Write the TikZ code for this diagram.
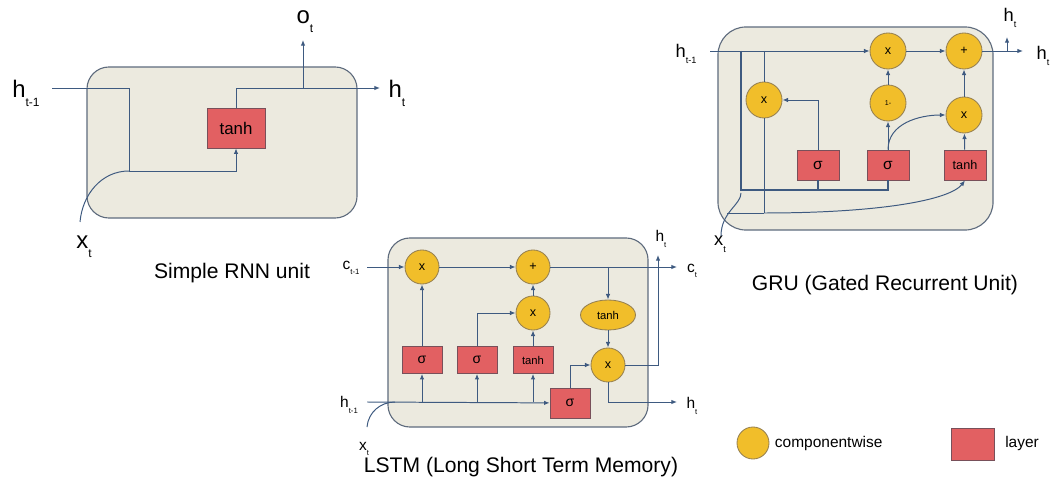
\documentclass[tikz,border=0pt]{standalone}
\usepackage{fontspec}
\setmainfont{Liberation Sans}
\usetikzlibrary{arrows.meta,shapes.geometric}
\definecolor{cellbg}{RGB}{236,234,223}
\definecolor{cellline}{RGB}{95,108,126}
\definecolor{opfill}{RGB}{241,190,42}
\definecolor{opline}{RGB}{150,128,80}
\definecolor{layfill}{RGB}{226,96,98}
\definecolor{layline}{RGB}{120,80,90}
\definecolor{wirecol}{RGB}{62,90,128}
\newcommand{\idx}[2]{#1\raisebox{-0.7ex}{\scalebox{0.5}{#2}}}

\begin{document}
\begin{tikzpicture}[x=0.025cm,y=-0.025cm,>={Latex[length=4pt,width=3.2pt]},
  cell/.style={draw=cellline,fill=cellbg,rounded corners=0.55cm,line width=0.8pt},
  op/.style={circle,draw=opline,fill=opfill,line width=0.6pt,inner sep=0pt,minimum size=0.9cm,font=\fontsize{9}{10}\selectfont},
  layer/.style={rectangle,draw=layline,fill=layfill,line width=0.5pt,inner sep=0pt,font=\fontsize{9}{10}\selectfont},
  wire/.style={draw=wirecol,line width=0.7pt},
  title/.style={font=\fontsize{15}{18}\selectfont},
  big/.style={font=\fontsize{17}{20}\selectfont},
  mid/.style={font=\fontsize{13}{15}\selectfont},
  small/.style={font=\fontsize{11}{13}\selectfont}]
\useasboundingbox (0,0) rectangle (1056,484);

% simple RNN
\node[cell,minimum width=6.75cm,minimum height=3.775cm] (RC) at (222,142.5) {};
\node[layer,minimum width=1.45cm,minimum height=1cm,font=\fontsize{12}{14}\selectfont] (Rtanh) at (236,128) {tanh};
\coordinate (Rin) at (52,88);
\coordinate (Rj) at (129,171);
\coordinate (Rx) at (80,222);
\coordinate (Rout) at (380,88);
\coordinate (Ro) at (303,88);
\coordinate (RoEnd) at (303,40);
\node[big] (Rh) at (26,93) {\idx{h}{t-1}};
\node[big] (Rxt) at (84,247) {\idx{x}{t}};
\node[big] (Rht) at (397,93) {\idx{h}{t}};
\node[big] (Rot) at (305,22) {\idx{o}{t}};
\node[title] (RT) at (232,273) {Simple RNN unit};

\draw[wire,->] (Rin) -| (Rj) -| (Rtanh.south);
\draw[wire] (Rx) to[out=85,in=180] (Rj);
\draw[wire,->] (Rtanh.north) |- (Rout);
\draw[wire,->] (Ro) -- (RoEnd);

% GRU
\node[cell,rounded corners=0.7cm,minimum width=6.875cm,minimum height=5.075cm] (GC) at (855.5,128.5) {};
\node[op] (Gmul1) at (888,51) {x};
\node[op] (Gadd) at (964,51) {+};
\node[op] (Gr) at (764,100) {x};
\node[op,font=\fontsize{5}{6}\selectfont] (Gone) at (888,103) {1-};
\node[op] (Gmul2) at (964,115) {x};
\node[layer,minimum width=1.05cm,minimum height=0.75cm,font=\fontsize{11}{12}\selectfont] (Gsig1) at (818,165) {σ};
\node[layer,minimum width=1.05cm,minimum height=0.75cm,font=\fontsize{11}{12}\selectfont] (Gsig2) at (888,165) {σ};
\node[layer,minimum width=1.05cm,minimum height=0.75cm] (Gtanh) at (965,165) {tanh};
\coordinate (Gin) at (710,51);
\coordinate (Gout) at (1023,51);
\coordinate (Gup) at (1007,51);
\coordinate (GupEnd) at (1007,37);
\coordinate (Ga) at (741,51);
\coordinate (Gb) at (741,190);
\coordinate (Gc) at (888,190);
\coordinate (Gd) at (764,51);
\coordinate (Ge) at (764,213);
\coordinate (Gf) at (727,213);
\coordinate (Gx) at (721,236);
\node[mid] (Gh) at (686,54) {\idx{h}{t-1}};
\node[mid] (Ght) at (1043,56) {\idx{h}{t}};
\node[mid] (GhUp) at (1010,18) {\idx{h}{t}};
\node[mid] (Gxt) at (720,244) {\idx{x}{t}};
\node[title] (GT) at (885,285) {GRU (Gated Recurrent Unit)};

\draw[wire,->] (Gin) -- (Gmul1);
\draw[wire,->] (Gmul1) -- (Gadd);
\draw[wire,->] (Gadd) -- (Gout);
\draw[wire,->] (Gup) -- (GupEnd);
\draw[wire,line width=0.9pt] (Ga) -- (Gb) -- (Gc) -- (Gsig2.south);
\draw[wire,line width=0.9pt] (Gsig1.south) -- (Gsig1.south |- Gb);
\draw[wire,line width=0.4pt] (Gd) -- (Gr.north);
\draw[wire,line width=0.4pt] (Gr.south) -- (Ge);
\draw[wire] (Gf) -- (Ge);
\draw[wire,->] (Ge) .. controls (880,213) and (950,200) .. (Gtanh.south);
\draw[wire] (Gx) .. controls (721,212) and (741,205) .. (741,193);
\draw[wire,->] (Gsig1.north) |- (Gr.east);
\draw[wire,->] (Gsig2) -- (Gone);
\draw[wire,->] (Gone) -- (Gmul1);
\draw[wire,->] (Gsig2.north) to[out=90,in=180] (Gmul2.west);
\draw[wire,->] (Gtanh) -- (Gmul2);
\draw[wire,->] (Gmul2) -- (Gadd);

% LSTM
\node[cell,minimum width=6.5cm,minimum height=4.725cm] (LC) at (518,332.5) {};
\node[op,minimum size=0.85cm] (Lx1) at (422,267) {x};
\node[op,minimum size=0.85cm] (Ladd) at (533,267) {+};
\node[op,minimum size=0.85cm] (Lx2) at (533,313) {x};
\node[ellipse,draw=opline,fill=opfill,line width=0.6pt,inner sep=0pt,minimum width=1.375cm,minimum height=0.75cm,font=\fontsize{8}{9}\selectfont] (Lth) at (608,315) {tanh};
\node[op,minimum size=0.85cm] (Lx3) at (608,365) {x};
\node[layer,minimum width=1cm,minimum height=0.675cm,font=\fontsize{10}{11}\selectfont] (Lsig1) at (422,360) {σ};
\node[layer,minimum width=1cm,minimum height=0.675cm,font=\fontsize{10}{11}\selectfont] (Lsig2) at (477,360) {σ};
\node[layer,minimum width=1cm,minimum height=0.675cm,font=\fontsize{8}{9}\selectfont] (Ltanh) at (533,360) {tanh};
\node[layer,minimum width=1cm,minimum height=0.75cm,font=\fontsize{10}{11}\selectfont] (Lsig3) at (570,403) {σ};
\coordinate (Lcin) at (367,267);
\coordinate (Lcout) at (677,267);
\coordinate (Lc) at (608,267);
\coordinate (Lhup) at (658,255);
\coordinate (Lhout) at (677,402);
\coordinate (Lhin) at (367,402);
\coordinate (Lx) at (367,427);
\coordinate (Lxj) at (395,402);
\node[small] (Lcl) at (351,268) {\idx{c}{t-1}};
\node[small] (Lct) at (692,271) {\idx{c}{t}};
\node[small] (LhUp) at (661,239) {\idx{h}{t}};
\node[small] (Lht) at (692,406) {\idx{h}{t}};
\node[small] (Lhl) at (349,405) {\idx{h}{t-1}};
\node[small] (Lxt) at (364,449) {\idx{x}{t}};
\node[title] (LT) at (521,467) {LSTM (Long Short Term Memory)};

\draw[wire,->] (Lcin) -- (Lx1);
\draw[wire,->] (Lx1) -- (Ladd);
\draw[wire,->] (Ladd) -- (Lcout);
\draw[wire,->] (Lc) -- (Lth);
\draw[wire,->] (Lth) -- (Lx3);
\draw[wire,->] (Lx3.east) -| (Lhup);
\draw[wire,->] (Lx3.south) |- (Lhout);
\draw[wire,->] (Lhin) -- (Lsig3);
\draw[wire,->] (Lsig1.south |- Lhin) -- (Lsig1.south);
\draw[wire,->] (Lsig2.south |- Lhin) -- (Lsig2.south);
\draw[wire,->] (Ltanh.south |- Lhin) -- (Ltanh.south);
\draw[wire,->] (Lsig1) -- (Lx1);
\draw[wire,->] (Lsig2.north) |- (Lx2.west);
\draw[wire,->] (Ltanh) -- (Lx2);
\draw[wire,->] (Lx2) -- (Ladd);
\draw[wire,->] (Lsig3.north) |- (Lx3.west);
\draw[wire] (Lx) to[out=85,in=180] (Lxj);

% legend
\node[op,minimum size=0.8cm] (Kop) at (753,443) {};
\node[small,anchor=west] (Kopt) at (770,443) {componentwise};
\node[layer,minimum width=1.075cm,minimum height=0.8cm] (Klay) at (973,444) {};
\node[small] (Klayt) at (1022,443) {layer};
\end{tikzpicture}
\end{document}
